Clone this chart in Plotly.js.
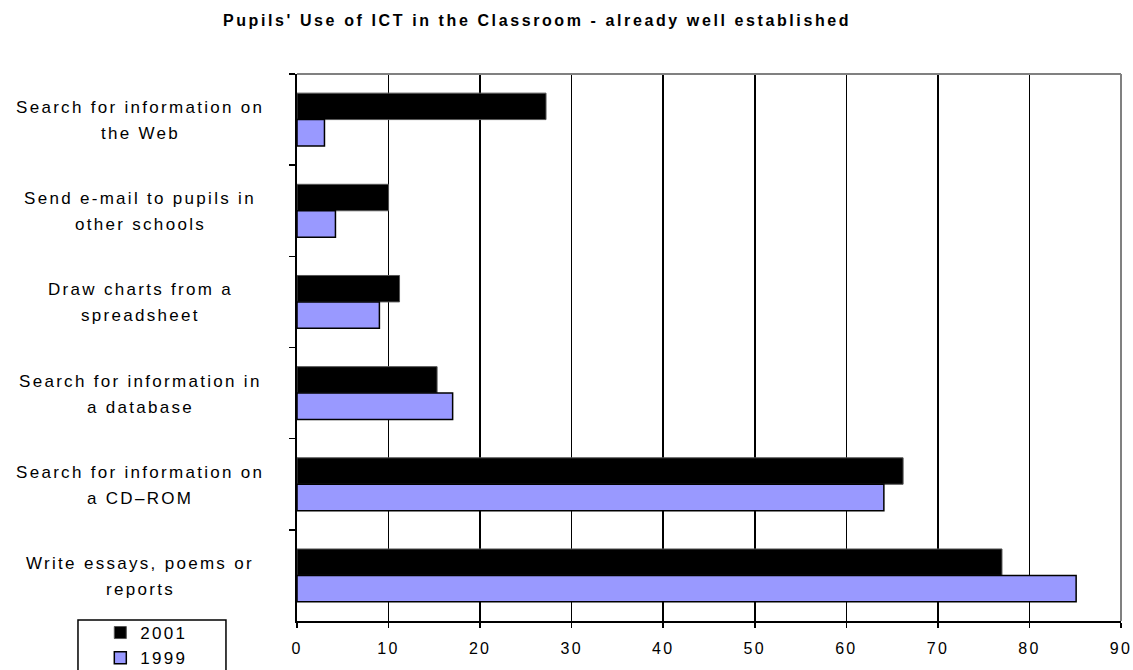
<!DOCTYPE html>
<html>
<head>
<meta charset="utf-8">
<script src="https://cdn.plot.ly/plotly-3.0.1.min.js"></script>
<style>
  html, body { margin: 0; padding: 0; background: #fff; }
  #chart { width: 1133px; height: 670px; }
  /* wide, spaced lettering for all chart text (also used when Plotly measures text) */
  svg text { letter-spacing: 2.3px; }
  #chart svg .gtitle { letter-spacing: 2.6px; }
</style>
</head>
<body>
<div id="chart"></div>
<script>
// Activities, listed top to bottom; <br> marks the label line break
const categories = [
  "Search for information on<br>the Web",
  "Send e-mail to pupils in<br>other schools",
  "Draw charts from a<br>spreadsheet",
  "Search for information in<br>a database",
  "Search for information on<br>a CD\u2013ROM",
  "Write essays, poems or<br>reports"
];

// Percentage of pupils per survey year
const values2001 = [27.2, 10.0, 11.2, 15.3, 66.2, 77.0];
const values1999 = [3.0, 4.2, 9.0, 17.0, 64.1, 85.1];

const seriesNames = ["2001", "1999"];
const xTicks = [0, 10, 20, 30, 40, 50, 60, 70, 80, 90];

const FONT = "Liberation Sans, Arial, sans-serif";

const traces = [
  {
    type: "bar",
    orientation: "h",
    name: seriesNames[0],
    y: categories,
    x: values2001,
    marker: { color: "#000000", line: { color: "#555555", width: 1 } },
    hoverinfo: "x+name"
  },
  {
    type: "bar",
    orientation: "h",
    name: seriesNames[1],
    y: categories,
    x: values1999,
    marker: { color: "#9999ff", line: { color: "#000000", width: 1.5 } },
    hoverinfo: "x+name"
  }
];

// Two-line category labels, each line placed on its own at fixed spacing
const annotations = [];
categories.forEach(function (cat) {
  const lines = cat.split("<br>");
  const mid = (lines.length - 1) / 2;
  lines.forEach(function (line, i) {
    annotations.push({
      xref: "paper", yref: "y",
      x: -0.19, y: cat,
      yshift: (mid - i) * 26 - 1,
      text: line,
      showarrow: false,
      xanchor: "center", yanchor: "middle",
      font: { family: FONT, size: 17, color: "#000" }
    });
  });
});

const layout = {
  width: 1133,
  height: 670,
  margin: { l: 297, r: 12, t: 74, b: 49, pad: 0, autoexpand: false },
  paper_bgcolor: "#ffffff",
  plot_bgcolor: "#ffffff",
  font: { family: FONT, size: 16, color: "#000" },
  title: {
    text: "<b>Pupils' Use of ICT in the Classroom - already well established</b>",
    font: { family: FONT, size: 16, color: "#000" },
    xref: "container", yref: "container",
    x: 0.474, xanchor: "center",
    y: 0.969, yanchor: "middle"
  },
  barmode: "group",
  bargap: 0.42,
  bargroupgap: 0,
  xaxis: {
    range: [0, 90],
    tickvals: xTicks,
    ticktext: xTicks.map(String),
    showgrid: true,
    gridcolor: "#000000",
    gridwidth: 1.5,
    zeroline: false,
    showline: true,
    linecolor: "#000000",
    linewidth: 2,
    ticks: "outside",
    ticklen: 5,
    tickwidth: 1.5,
    tickcolor: "#000000",
    ticklabelstandoff: 7,
    tickfont: { family: FONT, size: 16, color: "#000" },
    automargin: false,
    fixedrange: true
  },
  yaxis: {
    type: "category",
    categoryorder: "array",
    categoryarray: categories,
    autorange: "reversed",
    showticklabels: false,
    showgrid: false,
    zeroline: false,
    showline: true,
    linecolor: "#000000",
    linewidth: 2,
    ticks: "outside",
    tickson: "boundaries",
    ticklen: 6,
    tickwidth: 1.5,
    tickcolor: "#000000",
    automargin: false,
    fixedrange: true
  },
  showlegend: true,
  legend: {
    x: -0.2387, xanchor: "left",
    y: 0.011, yanchor: "top",
    xref: "paper", yref: "paper",
    bgcolor: "rgba(0,0,0,0)",
    borderwidth: 0,
    font: { family: FONT, size: 17, color: "#000" },
    traceorder: "normal",
    itemclick: false,
    itemdoubleclick: false
  },
  annotations: annotations,
  shapes: [
    // grey frame on the top and right of the plot area
    { type: "line", xref: "paper", yref: "paper", x0: 0, x1: 1, y0: 1, y1: 1,
      line: { color: "#808080", width: 2 }, layer: "above" },
    { type: "line", xref: "paper", yref: "paper", x0: 1, x1: 1, y0: 0, y1: 1,
      line: { color: "#808080", width: 2 }, layer: "above" },
    // legend frame
    { type: "rect", xref: "paper", yref: "paper",
      x0: -0.2658, x1: -0.0862, y0: -0.2, y1: 0.002,
      line: { color: "#000000", width: 1.5 }, fillcolor: "rgba(0,0,0,0)", layer: "above" }
  ]
};

Plotly.newPlot("chart", traces, layout, { displayModeBar: false, staticPlot: true });
</script>
</body>
</html>
